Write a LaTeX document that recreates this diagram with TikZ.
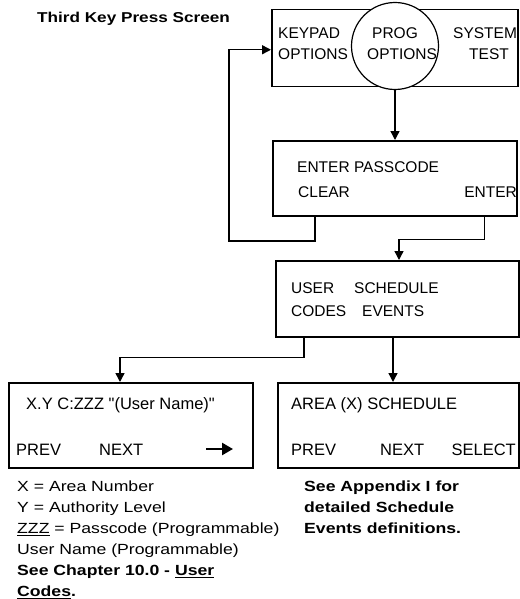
\documentclass[tikz,border=0pt]{standalone}
\usepackage{fontspec}
\setmainfont{Liberation Sans}
\newfontfamily\widefont{Liberation Sans}[FakeStretch=1.2]
\newfontfamily\qfont{Liberation Sans}[Ligatures=TeXOff]
\usetikzlibrary{arrows.meta}
\begin{document}
\begin{tikzpicture}[x=1pt,y=-1pt,
  box/.style={draw, line width=1.5pt, inner sep=0pt, anchor=north west},
  conn/.style={line width=1.4pt, -{Triangle[length=9pt,width=9pt]}},
  bt/.style={font=\fontsize{15.5}{18}\selectfont, anchor=base west, inner sep=0pt},
  bigt/.style={font=\qfont\fontsize{16.5}{19}\selectfont, anchor=base west, inner sep=0pt},
  note/.style={font=\widefont\fontsize{14.7}{21}\selectfont, anchor=north west, align=left, inner sep=0pt},
  bnote/.style={note, font=\widefont\bfseries\fontsize{14.7}{21}\selectfont}]
\useasboundingbox (0,0) rectangle (519,599);

% title
\node[font=\widefont\bfseries\fontsize{14.3}{17}\selectfont, anchor=base west, inner sep=0pt] (title) at (37,23) {Third Key Press Screen};

% boxes
\node[box, minimum width=246pt, minimum height=77pt] (b1) at (271,9) {};
\node[circle, draw, fill=white, line width=1.2pt, minimum size=87pt, inner sep=0pt] (c) at (395,46) {};
\node[box, minimum width=244pt, minimum height=75pt] (b2) at (272,140) {};
\node[box, minimum width=243pt, minimum height=76pt] (b3) at (275,260) {};
\node[box, minimum width=244pt, minimum height=85pt] (b4) at (8,382) {};
\node[box, minimum width=241pt, minimum height=85pt] (b5) at (277,382) {};

% box 1 texts
\node[bt] (kp) at (278,39) {KEYPAD};
\node[bt] (ko) at (278,60) {OPTIONS};
\node[bt] (pp) at (372,39) {PROG};
\node[bt] (po) at (367,60) {OPTIONS};
\node[bt] (ss) at (453,39) {SYSTEM};
\node[bt] (st) at (469,60) {TEST};

% box 2 texts
\node[bt] (ep) at (297,172) {ENTER PASSCODE};
\node[bt] (cl) at (298,197) {CLEAR};
\node[bt, anchor=base east] (en) at (517,197) {ENTER};

% box 3 texts
\node[bt] (us) at (291,293) {USER};
\node[bt] (cd) at (291,316) {CODES};
\node[bt] (sc) at (354,293) {SCHEDULE};
\node[bt] (ev) at (362,316) {EVENTS};

% box 4 texts
\node[bigt] (xy) at (26,409) {X.Y C:ZZZ "(User Name)"};
\node[bigt] (p4) at (16,455) {PREV};
\node[bigt] (n4) at (99,455) {NEXT};
\coordinate (ra) at (206,449);
\coordinate (rb) at (233,449);
\draw[line width=2.5pt, -{Triangle[length=11pt,width=12pt]}] (ra) -- (rb);

% box 5 texts
\node[bigt] (ar) at (291,409) {AREA (X) SCHEDULE};
\node[bigt] (p5) at (291,455) {PREV};
\node[bigt] (n5) at (380,455) {NEXT};
\node[bigt, anchor=base east] (se) at (516,455) {SELECT};

% notes
\node[note] (n1) at (17,480.7) {X = Area Number\\
Y = Authority Level\\
\underline{ZZZ} = Passcode (Programmable)\\
User Name (Programmable)\\
\textbf{See Chapter 10.0 - \underline{User}}\\
\textbf{\underline{Codes}.}};
\node[bnote] (n2) at (304,480.7) {See Appendix I for\\
detailed Schedule\\
Events definitions.};

% connectors
\coordinate (lp) at (229,241);
\draw[conn] (c.south) -- (c.south |- b2.north);
\draw[conn] ([xshift=43pt]b2.south west) |- (lp) |- ([yshift=-1.5pt]b1.west);
\draw[conn] ([xshift=-33pt]b2.south east) -- ++(0,23) -| ([xshift=124pt]b3.north west);
\draw[conn] ([xshift=29pt]b3.south west) -- ++(0,20) -| ([xshift=112pt]b4.north west);
\draw[conn] ([xshift=118pt]b3.south west) -- ([xshift=116pt]b5.north west);
\end{tikzpicture}
\end{document}
